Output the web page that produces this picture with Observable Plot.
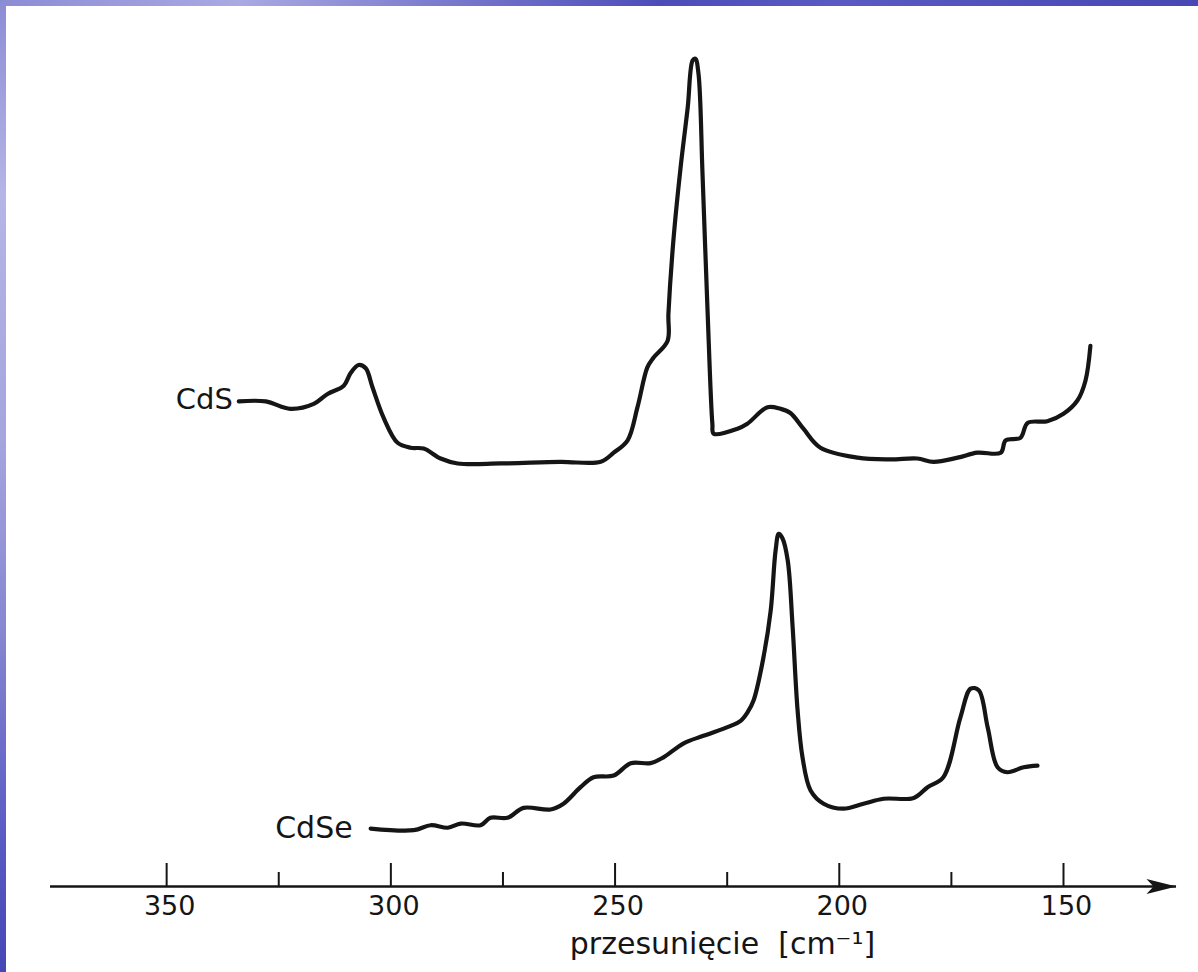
<!DOCTYPE html>
<html><head><meta charset="utf-8">
<script src="https://cdn.jsdelivr.net/npm/d3@7"></script>
<script src="https://cdn.jsdelivr.net/npm/@observablehq/plot@0.6"></script>
<style>
html,body{margin:0;padding:0;width:1198px;height:972px;overflow:hidden;background:#fff;}
#topbar{position:absolute;left:0;top:0;width:1198px;height:6px;background:linear-gradient(90deg,#8c8cd6 0%,#a9a9e3 20%,#7f7fd0 35%,#4d4db9 55%,#5a5ac2 70%,#4848b4 100%);}
#leftbar{position:absolute;left:0;top:0;width:6px;height:972px;background:linear-gradient(180deg,#8c8cd6 0%,#b5b5e6 20%,#a5a5df 45%,#8686d2 65%,#5c5cc4 85%,#4646b6 100%);}
#chart{position:absolute;left:6px;top:6px;}
</style></head><body>
<div id="topbar"></div><div id="leftbar"></div><div id="chart"></div>
<script>
// Raman shift (cm^-1) and relative intensity (a.u.)
const cdsShift = [333.9,327.9,322.4,317.2,314.1,310.5,309.0,307.2,305.6,304.1,301.6,298.5,295.6,292.7,288.9,285.1,275.5,262.2,253.2,250.3,247.2,245.0,242.8,241.4,238.3,238.1,237.0,235.4,233.8,232.7,232.1,231.4,230.5,229.4,228.3,228.0,222.7,220.5,216.0,213.1,210.9,208.0,204.2,195.9,188.6,182.6,179.0,173.6,169.2,164.0,162.9,159.6,158.0,153.6,150.0,146.9,145.1,144.0];
const cdsIntensity = [58.6,58.6,57.7,58.3,59.5,60.5,62.0,63.0,62.6,60.3,56.6,53.6,53.0,52.9,51.7,51.1,51.1,51.3,51.3,52.4,53.9,57.9,62.7,63.9,65.9,69.2,78.0,86.8,94.1,99.8,100,98.2,86.1,69.9,55.9,54.7,55.3,55.9,57.9,57.7,57.2,55.3,53.0,51.8,51.6,51.7,51.3,51.8,52.4,52.4,53.9,54.2,56.0,56.2,57.1,58.7,61.1,65.3];
const cdseShift = [304.5,294.9,291.1,287.3,284.4,280.0,277.8,274.0,270.4,264.4,261.5,257.7,254.8,250.3,246.5,242.1,239.2,234.7,230.3,224.2,222.0,220.5,219.1,216.9,215.3,214.2,213.5,212.7,211.5,210.4,209.3,208.2,206.4,203.5,199.1,194.6,190.1,183.4,180.3,176.8,173.0,170.7,168.9,166.9,164.7,162.5,158.9,155.8];
const cdseIntensity = [7.0,6.8,7.4,7.1,7.6,7.4,8.3,8.3,9.5,9.3,10.0,12.0,13.2,13.4,14.9,14.9,15.6,17.3,18.2,19.4,20.0,21.0,22.5,27.7,33.3,40.6,42.6,42.1,39.4,31.3,21.3,15.6,11.6,10.0,9.4,10.0,10.6,10.7,12.0,13.2,20.4,23.9,23.7,19.2,14.4,13.8,14.4,14.6];
const sampleNames = ["CdS", "CdSe"];
const majorTicks = [350, 300, 250, 200, 150];
const minorTicks = [325, 275, 225, 175];
const axisTitle = "przesunięcie\u00A0\u00A0[cm\u207B\u00B9]";

const cds = cdsShift.map((x, i) => ({shift: x, intensity: cdsIntensity[i]}));
const cdse = cdseShift.map((x, i) => ({shift: x, intensity: cdseIntensity[i]}));

const W = 1192, H = 966, mL = 44, mR = 22, mT = 0, mB = 86;
const frameH = H - mT - mB;
const ink = "#151515";

const arrowHead = {
  draw(ctx) {
    ctx.moveTo(0, 0);
    ctx.lineTo(-30, -7.5);
    ctx.lineTo(-23, 0);
    ctx.lineTo(-30, 7.5);
    ctx.closePath();
  }
};

const chart = Plot.plot({
  width: W, height: H,
  marginLeft: mL, marginRight: mR, marginTop: mT, marginBottom: mB,
  style: {background: "white", fontFamily: "DejaVu Sans", color: ink, overflow: "visible"},
  x: {domain: [375.9, 124.8]},
  y: {domain: [0, 106.3], axis: null},
  marks: [
    Plot.ruleY([0], {stroke: ink, strokeWidth: 2.5}),
    Plot.ruleX(majorTicks, {x: d => d, insetTop: frameH - 23, stroke: ink, strokeWidth: 2}),
    Plot.ruleX(minorTicks, {x: d => d, insetTop: frameH - 14, stroke: ink, strokeWidth: 2}),
    Plot.dot([0], {x: () => 124.8, y: 0, symbol: arrowHead, fill: ink, stroke: "none", r: 5}),
    Plot.axisX({ticks: majorTicks, tickSize: 0, tickPadding: 9, tickFormat: d => String(d), fontSize: 27, dx: 3, label: null}),
    Plot.line(cds, {x: "shift", y: "intensity", curve: "catmull-rom", stroke: ink, strokeWidth: 4.2, strokeLinejoin: "round"}),
    Plot.line(cdse, {x: "shift", y: "intensity", curve: "catmull-rom", stroke: ink, strokeWidth: 4.2, strokeLinejoin: "round"}),
    Plot.text([cds[0]], {x: "shift", y: "intensity", text: () => sampleNames[0], textAnchor: "end", dx: -6, dy: -2, fontSize: 29, fill: ink}),
    Plot.text([cdse[0]], {x: "shift", y: "intensity", text: () => sampleNames[1], textAnchor: "end", dx: -18, fontSize: 30, fill: ink}),
    Plot.text([axisTitle], {frameAnchor: "bottom", text: d => d, lineAnchor: "bottom", dx: 109, dy: 67, fontSize: 30, fill: ink})
  ]
});
document.getElementById("chart").appendChild(chart);
</script>
</body></html>
